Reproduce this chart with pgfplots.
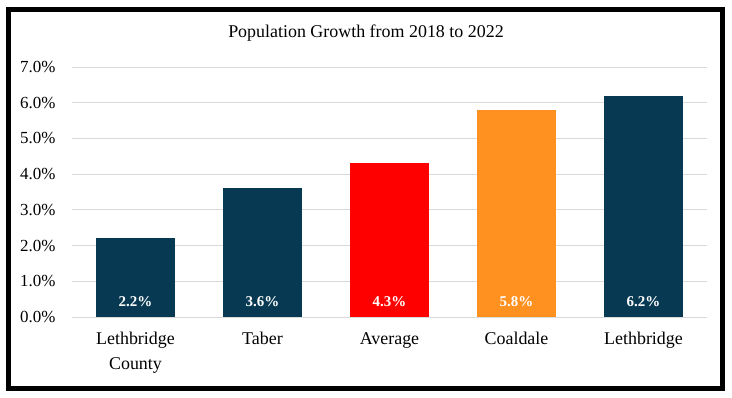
\documentclass[border=0pt]{standalone}
\usepackage{pgfplots}
\pgfplotsset{compat=1.18}
\usepackage{fontspec}
\setmainfont{Liberation Serif}
\definecolor{navy}{HTML}{073A52}
\definecolor{orng}{HTML}{FF9121}
\definecolor{gridgray}{HTML}{D9D9D9}
\begin{document}
\begin{tikzpicture}
\path[fill=white] (-72bp,-81bp) rectangle (660bp,317bp);
\begin{axis}[
  at={(0,0)}, anchor=south west,
  scale only axis, width=635bp, height=250bp,
  xmin=-0.5, xmax=4.5, ymin=0, ymax=7,
  xtick={0,1,2,3,4},
  xticklabels={{Lethbridge\\County},Taber,Average,Coaldale,Lethbridge},
  xticklabel style={align=center, font=\fontsize{18}{25}\selectfont, yshift=-12bp},
  ytick={0,1,2,3,4,5,6,7},
  yticklabel={\pgfmathprintnumber[fixed,fixed zerofill,precision=1]{\tick}\%},
  yticklabel style={font=\fontsize{17}{20}\selectfont, xshift=-13bp},
  /pgf/number format/assume math mode=true,
  major tick length=0pt,
  axis line style={draw=none},
  ymajorgrids, grid style={draw=gridgray, line width=0.9bp},
  clip=false,
]
\addplot[ybar, bar width=79bp, bar shift=0pt, fill=navy, draw=none] coordinates {(0,2.2)};
\addplot[ybar, bar width=79bp, bar shift=0pt, fill=navy, draw=none] coordinates {(1,3.6)};
\addplot[ybar, bar width=79bp, bar shift=0pt, fill=red, draw=none] coordinates {(2,4.3)};
\addplot[ybar, bar width=79bp, bar shift=0pt, fill=orng, draw=none] coordinates {(3,5.8)};
\addplot[ybar, bar width=79bp, bar shift=0pt, fill=navy, draw=none] coordinates {(4,6.2)};
\addplot[ybar, bar width=79bp, bar shift=0pt, draw=none, fill=none,
  point meta=explicit symbolic,
  nodes near coords,
  every node near coord/.style={anchor=south, yshift=7bp, text=white, font=\fontsize{15}{18}\selectfont\bfseries}]
  coordinates {(0,0) [2.2\%] (1,0) [3.6\%] (2,0) [4.3\%] (3,0) [5.8\%] (4,0) [6.2\%]};
\end{axis}
\node[font=\fontsize{18}{22}\selectfont] at (294bp,284bp) {Population Growth from 2018 to 2022};
\draw[line width=5bp] (-63.5bp,-71.5bp) rectangle (650.5bp,307.5bp);
\end{tikzpicture}
\end{document}
